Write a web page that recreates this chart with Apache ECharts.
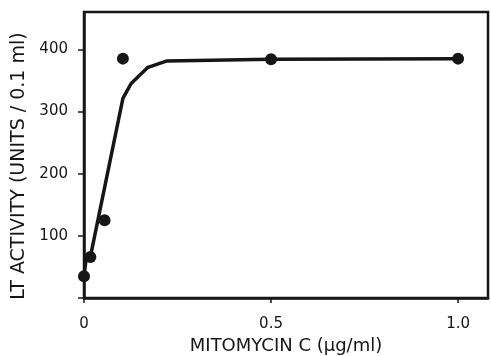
<!DOCTYPE html>
<html>
<head>
<meta charset="utf-8">
<script src="https://cdn.jsdelivr.net/npm/echarts@6/dist/echarts.min.js"></script>
<style>
  html, body { margin: 0; padding: 0; background: #fff; }
  #main { width: 491px; height: 356px; }
</style>
</head>
<body>
<div id="main"></div>
<script>
// measured points (dots)
var doseX = [0, 0.017, 0.055, 0.104, 0.5, 1.0];
var activityY = [35, 66, 125, 385, 384, 385];

// fitted curve drawn through the data
var curveX = [0, 0.005, 0.017, 0.104, 0.126, 0.171, 0.22, 0.5, 1.0];
var curveY = [35, 60, 66, 321, 345, 371, 381, 384, 385];

var xTicks = { 0: '0', 0.5: '0.5', 1: '1.0' };

var ink = '#161616';
var font = 'DejaVu Sans';

var chart = echarts.init(document.getElementById('main'));

var option = {
	backgroundColor : '#fff',
	animation : false,
	grid : {
		left : 84,
		right : 3,
		top : 12,
		bottom : 58,
		containLabel : false,
		outerBoundsMode : 'none',
		show : true,
		borderColor : ink,
		borderWidth : 2.5
	},
	xAxis : {
		type : 'value',
		min : 0,
		max : 1.08,
		interval : 0.5,
		name : 'MITOMYCIN C (μg/ml)',
		nameLocation : 'middle',
		nameGap : 37,
		nameTextStyle : { color : ink, fontSize : 18, fontFamily : font },
		axisLine : { lineStyle : { color : ink, width : 2.5 } },
		axisTick : { length : 5, lineStyle : { color : ink, width : 1.5 } },
		axisLabel : {
			color : ink,
			fontSize : 15,
			fontFamily : font,
			margin : 19,
			showMaxLabel : false,
			formatter : function(v) { return xTicks[v] !== undefined ? xTicks[v] : ''; }
		},
		splitLine : { show : false }
	},
	yAxis : {
		type : 'value',
		min : 0,
		max : 460,
		interval : 100,
		name : 'LT ACTIVITY (UNITS / 0.1 ml)',
		nameLocation : 'middle',
		nameGap : 55,
		nameTextStyle : { color : ink, fontSize : 19, fontFamily : font, padding : [0, 22, 0, 0] },
		axisLine : { lineStyle : { color : ink, width : 2.5 } },
		axisTick : { length : 6, lineStyle : { color : ink, width : 1.5 } },
		axisLabel : {
			color : ink,
			fontSize : 15,
			fontFamily : font,
			margin : 16,
			showMaxLabel : false,
			formatter : function(v) { return v === 0 ? '' : v; }
		},
		splitLine : { show : false }
	},
	series : [ {
		type : 'line',
		data : curveX.map(function(x, i) { return [x, curveY[i]]; }),
		showSymbol : false,
		symbol : 'none',
		smooth : false,
		lineStyle : { color : ink, width : 3.5 },
		z : 2
	}, {
		type : 'scatter',
		data : doseX.map(function(x, i) { return [x, activityY[i]]; }),
		symbol : 'circle',
		symbolSize : 12,
		clip : false,
		itemStyle : { color : ink, opacity : 1 },
		z : 3
	} ]
};

chart.setOption(option);
</script>
</body>
</html>
